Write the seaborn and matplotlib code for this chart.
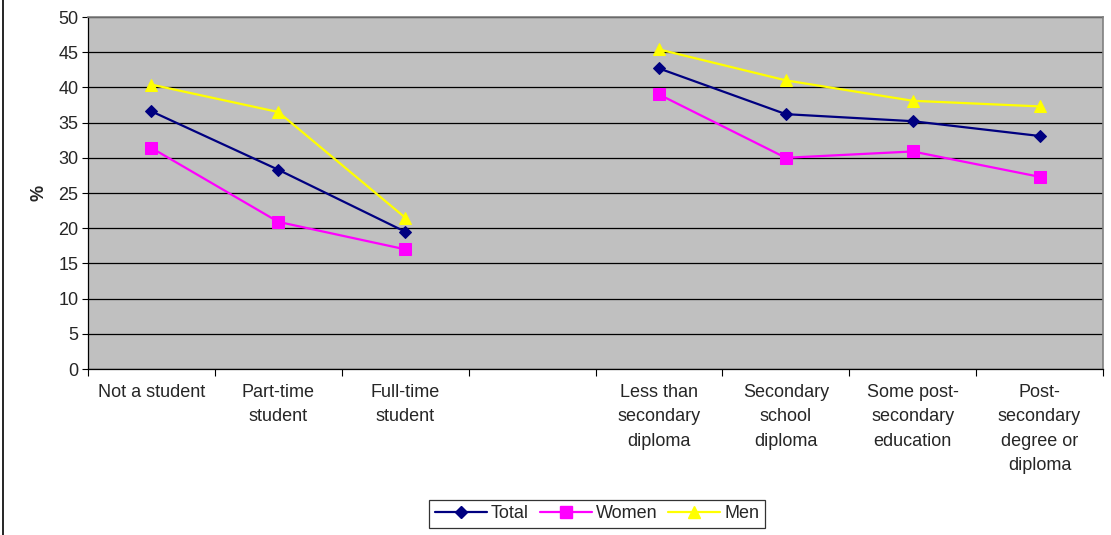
import pandas as pd
import numpy as np
import matplotlib
matplotlib.use("Agg")
import matplotlib.pyplot as plt
import seaborn as sns
from matplotlib.lines import Line2D
from matplotlib.patches import Rectangle

# Data
categories = ["Not a student", "Part-time\nstudent", "Full-time\nstudent", "",
              "Less than\nsecondary\ndiploma", "Secondary\nschool\ndiploma",
              "Some post-\nsecondary\neducation", "Post-\nsecondary\ndegree or\ndiploma"]
blocks = ["student", "student", "student", None,
          "education", "education", "education", "education"]
total = [36.6, 28.3, 19.5, None, 42.7, 36.2, 35.2, 33.1]
women = [31.4, 20.9, 17.0, None, 39.0, 30.0, 30.9, 27.3]
men = [40.4, 36.5, 21.5, None, 45.4, 41.0, 38.1, 37.3]

series_names = ["Total", "Women", "Men"]
colors = {"Total": "#000080", "Women": "#FF00FF", "Men": "#FFFF00"}
markers = {"Total": "D", "Women": "s", "Men": "^"}
msizes = {"Total": 6.5, "Women": 8, "Men": 9}

rows = []
for name, vals in zip(series_names, [total, women, men]):
    for i, v in enumerate(vals):
        if v is None:
            continue
        rows.append({"pos": i, "value": v, "series": name, "block": blocks[i]})
df = pd.DataFrame(rows)

sns.set_style("white")
plt.rcParams["font.family"] = ["Liberation Sans", "DejaVu Sans"]
FS = 13

fig = plt.figure(figsize=(11.11, 5.35), dpi=100)
ax = fig.add_axes([88 / 1111, 1 - 369 / 535, (1103 - 88) / 1111, (369 - 17) / 535])
ax.set_facecolor("#C0C0C0")

for name in series_names:
    sub = df[df["series"] == name]
    sns.lineplot(data=sub, x="pos", y="value", units="block", estimator=None,
                 color=colors[name], marker=markers[name], markersize=msizes[name],
                 markeredgecolor=colors[name], linewidth=1.6, ax=ax, legend=False,
                 zorder=3)

ax.set_xlim(-0.5, len(categories) - 0.5)
ax.set_ylim(0, 50)
ax.set_yticks(np.arange(0, 51, 5))
ax.yaxis.grid(True, color="black", linewidth=0.9)
ax.set_axisbelow(True)

ax.set_xticks(range(len(categories)))
ax.set_xticklabels(categories, fontsize=FS, linespacing=1.55)
ax.set_xticks(np.arange(-0.5, len(categories), 1), minor=True)
ax.tick_params(axis="x", which="major", length=0, pad=11)
ax.tick_params(axis="x", which="minor", length=5, width=0.8, color="black", direction="out")
ax.tick_params(axis="y", length=4, width=0.8, color="black", direction="out",
               labelsize=FS, pad=3)
ax.tick_params(bottom=True, left=True, which="both")
ax.set_xlabel("")
ax.set_ylabel("%", fontsize=FS, fontweight="bold", labelpad=8)

for side in ["top", "right"]:
    ax.spines[side].set_color("#808080")
    ax.spines[side].set_linewidth(1.2)
for side in ["left", "bottom"]:
    ax.spines[side].set_color("black")
    ax.spines[side].set_linewidth(0.9)

handles = [Line2D([0], [0], color=colors[n], marker=markers[n], markersize=msizes[n],
                  markeredgecolor=colors[n], linewidth=1.6) for n in series_names]
leg = fig.legend(handles, series_names, loc="center", bbox_to_anchor=(597 / 1111, 1 - 514 / 535),
                 ncol=3, frameon=True, fontsize=FS, handlelength=2.9, handletextpad=0.2,
                 columnspacing=0.6, borderpad=0.3, fancybox=False)
leg.get_frame().set_edgecolor("black")
leg.get_frame().set_linewidth(0.9)

# outer chart border
fig.patches.append(Rectangle((3 / 1111, -0.01), 1.1, 1.1, transform=fig.transFigure,
                             fill=False, edgecolor="black", linewidth=1.2))

fig.savefig("out.png", dpi=100)
